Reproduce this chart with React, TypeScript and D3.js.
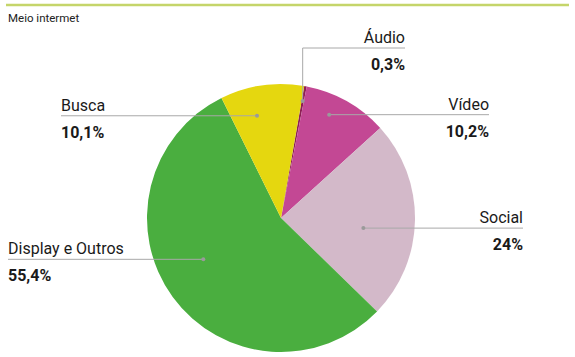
import React from "react";
import * as d3 from "d3";

const categories = ["Áudio", "Vídeo", "Social", "Display e Outros", "Busca"];
const values = [0.3, 10.2, 24, 55.4, 10.1];
const valueLabels = ["0,3%", "10,2%", "24%", "55,4%", "10,1%"];
const colors = ["#8e1f55", "#c34894", "#d3b9c9", "#4aae3f", "#e5d70f"];
const title = "Meio intermet";

// annotation layout: dot (polar, deg from top, radius), label anchor x, line y, text anchor
const labelAnchorX = [405, 489, 523, 8, 61];
const labelLineY = [48, 116, 228, 259, 116];
const labelSide = ["right", "right", "right", "left", "left"];
const dotAngleDeg = [10.5, 25, 97, 242, 346.8];
const dotRadius = [119, 114, 83, 88, 105];

export default function App() {
  const W = 575, H = 357;
  const cx = 281, cy = 218, R = 134;
  const startAngle = (10 * Math.PI) / 180;
  const pie = d3
    .pie<number>()
    .sort(null)
    .value((d) => d)
    .startAngle(startAngle)
    .endAngle(startAngle + 2 * Math.PI);
  const arcs = pie(values);
  const arc = d3.arc<d3.PieArcDatum<number>>().innerRadius(0).outerRadius(R);
  const font = "Roboto, 'DejaVu Sans', sans-serif";

  return (
    <svg width={W} height={H} style={{ position: "absolute", left: 0, top: 0 }}>
      <line x1={6} x2={569} y1={5} y2={5} stroke="#c5d56a" strokeWidth={2.5} />
      <text x={8} y={22} fontSize={11.5} fontFamily={font} fill="#222">{title}</text>
      <g transform={`translate(${cx},${cy})`}>
        {arcs.map((a, i) => (
          <path key={i} d={arc(a) || ""} fill={colors[i]} />
        ))}
      </g>
      {categories.map((c, i) => {
        const ang = (dotAngleDeg[i] * Math.PI) / 180;
        const dx = cx + dotRadius[i] * Math.sin(ang);
        const dy = cy - dotRadius[i] * Math.cos(ang);
        const lx = labelAnchorX[i];
        const ly = labelLineY[i];
        const right = labelSide[i] === "right";
        const path =
          i === 0
            ? `M${dx},${dy}V${ly}H${lx}`
            : `M${dx},${dy}H${lx}`;
        const lineY = i === 0 ? ly : dy;
        return (
          <g key={c}>
            <path d={path} fill="none" stroke="#a8a8a8" strokeWidth={1} />
            <circle cx={dx} cy={dy} r={2} fill="#9a9a9a" />
            <text
              x={lx}
              y={lineY - 5}
              textAnchor={right ? "end" : "start"}
              fontSize={16}
              fontFamily={font}
              fill="#1a1a1a"
            >
              {c}
            </text>
            <text
              x={lx}
              y={lineY + 22}
              textAnchor={right ? "end" : "start"}
              fontSize={16}
              fontWeight="bold"
              fontFamily={font}
              fill="#1a1a1a"
            >
              {valueLabels[i]}
            </text>
          </g>
        );
      })}
    </svg>
  );
}
